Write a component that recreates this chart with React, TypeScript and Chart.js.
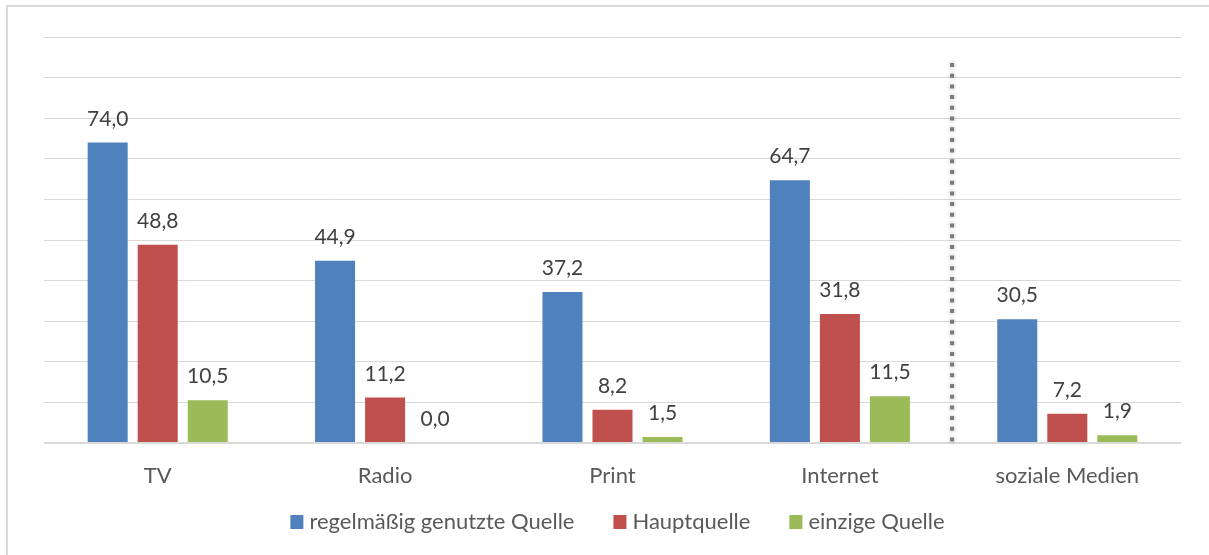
import React, { useEffect, useRef } from "react";
import { Chart, registerables } from "chart.js";

Chart.register(...registerables);

const categories = ["TV", "Radio", "Print", "Internet", "soziale Medien"];
const seriesNames = ["regelmäßig genutzte Quelle", "Hauptquelle", "einzige Quelle"];
const regelmaessig = [74.0, 44.9, 37.2, 64.7, 30.5];
const hauptquelle = [48.8, 11.2, 8.2, 31.8, 7.2];
const einzige = [10.5, 0.0, 1.5, 11.5, 1.9];
const colors = ["#4F81BD", "#C0504D", "#9BBB59"];

const FONT = "Lato, 'Open Sans', sans-serif";

const frame = {
  id: "frame",
  beforeDraw(chart: any) {
    const ctx = chart.ctx;
    ctx.save();
    ctx.strokeStyle = "#d9d9d9";
    ctx.lineWidth = 2;
    ctx.beginPath();
    ctx.moveTo(7, 555);
    ctx.lineTo(7, 6);
    ctx.lineTo(1209, 6);
    ctx.stroke();
    ctx.restore();
  },
};

const dataLabels = {
  id: "dataLabels",
  afterDatasetsDraw(chart: any) {
    const ctx = chart.ctx;
    ctx.save();
    ctx.fillStyle = "#404040";
    ctx.font = `21px ${FONT}`;
    ctx.textAlign = "center";
    ctx.textBaseline = "alphabetic";
    chart.data.datasets.forEach((ds: any, i: number) => {
      const meta = chart.getDatasetMeta(i);
      meta.data.forEach((bar: any, j: number) => {
        const v = ds.data[j] as number;
        ctx.fillText(v.toFixed(1).replace(".", ","), bar.x, bar.y - 17);
      });
    });
    ctx.restore();
  },
};

const separator = {
  id: "separator",
  afterDatasetsDraw(chart: any) {
    const ctx = chart.ctx;
    const xs = chart.scales.x;
    const x = (xs.getPixelForValue(3) + xs.getPixelForValue(4)) / 2 - 1.5;
    ctx.save();
    ctx.strokeStyle = "#7a7a7a";
    ctx.lineWidth = 4;
    ctx.setLineDash([4, 6.7]);
    ctx.shadowColor = "rgba(0,0,0,0.3)";
    ctx.shadowBlur = 4;
    ctx.beginPath();
    ctx.moveTo(x, 63);
    ctx.lineTo(x, 446);
    ctx.stroke();
    ctx.restore();
  },
};

const customLegend = {
  id: "customLegend",
  afterDraw(chart: any) {
    const ctx = chart.ctx;
    const area = chart.chartArea;
    ctx.save();
    ctx.font = `22px ${FONT}`;
    ctx.textBaseline = "alphabetic";
    ctx.textAlign = "left";
    const box = 13;
    const gapText = 6;
    const gapItem = 39;
    const widths = chart.data.datasets.map((d: any) => ctx.measureText(d.label).width);
    const total =
      widths.reduce((a: number, w: number) => a + box + gapText + w, 0) +
      gapItem * (widths.length - 1);
    let x = (area.left + area.right) / 2 - total / 2 + 5;
    const baseline = 529;
    chart.data.datasets.forEach((d: any, i: number) => {
      ctx.fillStyle = d.backgroundColor;
      ctx.fillRect(x, baseline - 14, box, 14);
      x += box + gapText;
      ctx.fillStyle = "#595959";
      ctx.fillText(d.label, x, baseline);
      x += widths[i] + gapItem;
    });
    ctx.restore();
  },
};

export default function App() {
  const ref = useRef<HTMLCanvasElement>(null);
  useEffect(() => {
    document.body.style.margin = "0";
    const chart = new Chart(ref.current!, {
      type: "bar",
      data: {
        labels: categories,
        datasets: [regelmaessig, hauptquelle, einzige].map((d, i) => ({
          label: seriesNames[i],
          data: d,
          backgroundColor: colors[i],
          barPercentage: 0.8,
          categoryPercentage: 0.66,
        })),
      },
      options: {
        animation: false,
        responsive: false,
        maintainAspectRatio: false,
        layout: { padding: { left: 44, right: 28, top: 37, bottom: 45.6 } },
        plugins: {
          legend: { display: false },
          tooltip: { enabled: false },
        },
        scales: {
          x: {
            grid: { display: false, drawTicks: false },
            border: { display: false },
            ticks: {
              color: "#595959",
              font: { family: FONT, size: 22 },
              padding: 20,
            },
          },
          y: {
            min: 0,
            max: 100,
            ticks: { display: false, stepSize: 10 },
            border: { display: false },
            grid: {
              drawTicks: false,
              color: "#d9d9d9",
              lineWidth: (c: any) => (c.tick && c.tick.value === 0 ? 2 : 1),
            },
          },
        },
      },
      plugins: [frame, dataLabels, separator, customLegend],
    });
    return () => chart.destroy();
  }, []);
  return (
    <div style={{ width: 1209, height: 555, background: "#fff" }}>
      <canvas ref={ref} width={1209} height={555} />
    </div>
  );
}
